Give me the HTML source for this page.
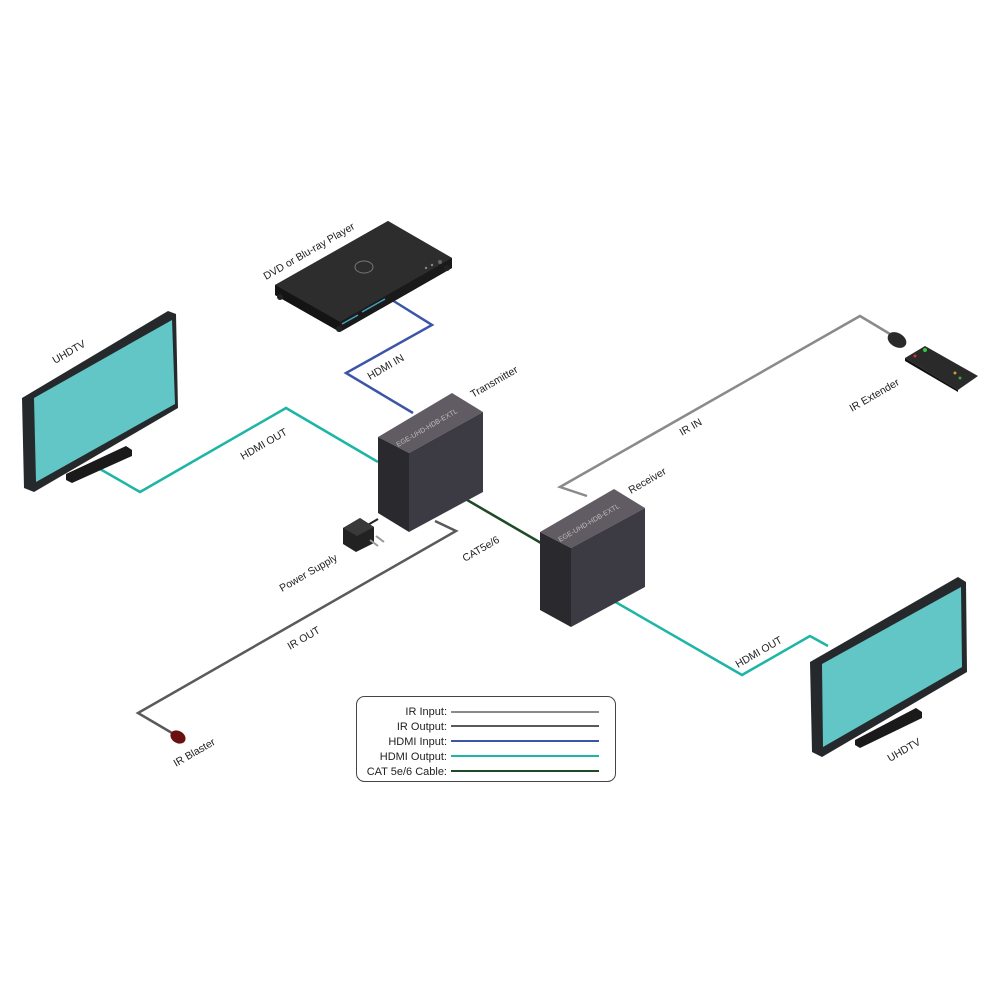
<!DOCTYPE html>
<html><head><meta charset="utf-8"><style>
html,body{margin:0;padding:0;background:#fff;}
svg{display:block;font-family:"Liberation Sans",sans-serif;}
</style></head><body>
<svg width="1000" height="1000" viewBox="0 0 1000 1000">
<polyline points="392,300 432,325 346,373 413,413" fill="none" stroke="#3c55a8" stroke-width="2.5"/>
<polyline points="378,462 286,408 140,492 100,469" fill="none" stroke="#1db5a5" stroke-width="2.5"/>
<polyline points="435,521 456,531 138,713 172,733" fill="none" stroke="#5a5a5a" stroke-width="2.5"/>
<line x1="462" y1="497" x2="541" y2="543" stroke="#1e4a26" stroke-width="2.5"/>
<polyline points="587,496 560,487 860,316 890,334" fill="none" stroke="#8a8a8a" stroke-width="2.5"/>
<polyline points="612,600 742,675 810,636 828,646" fill="none" stroke="#1db5a5" stroke-width="2.5"/>

<polygon points="275,285 388,221 452,258 452,268 340,332 275,295" fill="#1f1f1f"/>
<polygon points="275,285 388,221 452,258 340,322" fill="#2d2d2d"/>
<polygon points="275,285 340,322 340,332 275,295" fill="#141414"/>
<polygon points="340,322 452,258 452,268 340,332" fill="#1a1a1a"/>
<ellipse cx="364" cy="267" rx="9" ry="6" fill="none" stroke="#777" stroke-width="1"/>
<line x1="342" y1="324" x2="358" y2="315" stroke="#3fa3c0" stroke-width="1.5"/>
<line x1="362" y1="312" x2="385" y2="299" stroke="#3fa3c0" stroke-width="1.5"/>
<circle cx="339" cy="329" r="3" fill="#222"/><circle cx="280" cy="297" r="3" fill="#222"/><circle cx="447" cy="268" r="3" fill="#222"/>
<circle cx="440" cy="262" r="2" fill="#666"/><circle cx="432" cy="265" r="1.2" fill="#888"/><circle cx="426" cy="268" r="1.2" fill="#888"/>
<g font-size="10.5" fill="#222">
<text transform="translate(266,280) rotate(-30)">DVD or Blu-ray Player</text>
<text transform="translate(370,380) rotate(-30)">HDMI IN</text>
</g>

<polygon points="378,437 452,393 483,412 409,453" fill="#615c63"/>
<polygon points="378,437 409,453 409,532 378,513" fill="#2a292e"/>
<polygon points="409,453 483,412 483,492 409,532" fill="#3c3a42"/>
<text transform="translate(398,447) rotate(-30)" font-size="7" fill="#bbb">EGE-UHD-HDB-EXTL</text>

<polygon points="540,532 614,489 645,508 571,548" fill="#615c63"/>
<polygon points="540,532 571,548 571,627 540,610" fill="#2a292e"/>
<polygon points="571,548 645,508 645,587 571,627" fill="#3c3a42"/>
<text transform="translate(560,542) rotate(-30)" font-size="7" fill="#bbb">EGE-UHD-HDB-EXTL</text>

<line x1="378" y1="519" x2="366" y2="526" stroke="#222" stroke-width="2"/>
<polygon points="343,528 360,518 374,527 374,543 356,552 343,544" fill="#222"/>
<polygon points="343,528 360,518 374,527 357,536" fill="#3a3a3a"/>
<line x1="370" y1="540" x2="378" y2="546" stroke="#999" stroke-width="2"/>
<line x1="376" y1="536" x2="384" y2="542" stroke="#999" stroke-width="2"/>

<ellipse cx="178" cy="737" rx="8" ry="6" transform="rotate(30 178 737)" fill="#6a1010"/>

<polygon points="22,398 168,311 176,314 178,408 34,492 24,488" fill="#25292b"/>
<polygon points="34,398 172,320 175,404 36,482" fill="#63c6c6"/>
<polygon points="66,474 126,446 132,450 132,456 72,483 66,480" fill="#1a1a1a"/>

<polygon points="810,662 958,577 966,582 967,672 822,757 812,752" fill="#25292b"/>
<polygon points="822,664 961,587 962,667 823,747" fill="#63c6c6"/>
<polygon points="855,740 916,708 922,712 922,718 860,748 855,745" fill="#1a1a1a"/>

<ellipse cx="897" cy="340" rx="10" ry="7" transform="rotate(30 897 340)" fill="#2a2a2a"/>
<polygon points="905,358 925,346 978,376 958,390" fill="#2a2a2a"/>
<polygon points="905,358 958,390 958,392 905,361" fill="#111"/>
<circle cx="925" cy="350" r="2" fill="#3c3"/><circle cx="915" cy="356" r="1.5" fill="#c33"/>
<circle cx="955" cy="373" r="1.5" fill="#c93"/><circle cx="960" cy="378" r="1.5" fill="#3a3"/>

<g font-size="10.5" fill="#222">
<text transform="translate(473,398) rotate(-30)">Transmitter</text>
<text transform="translate(631,494) rotate(-30)">Receiver</text>
<text transform="translate(282,592) rotate(-30)">Power Supply</text>
<text transform="translate(465,562) rotate(-30)">CAT5e/6</text>
<text transform="translate(290,650) rotate(-30)">IR OUT</text>
<text transform="translate(176,767) rotate(-30)">IR Blaster</text>
<text transform="translate(55,364) rotate(-30)">UHDTV</text>
<text transform="translate(243,460) rotate(-30)">HDMI OUT</text>
<text transform="translate(890,762) rotate(-30)">UHDTV</text>
<text transform="translate(738,668) rotate(-30)">HDMI OUT</text>
<text transform="translate(852,412) rotate(-30)">IR Extender</text>
<text transform="translate(682,436) rotate(-30)">IR IN</text>
</g>

<rect x="356.5" y="696.5" width="259" height="85" rx="8" fill="#fff" stroke="#444" stroke-width="1"/>
<g font-size="11" fill="#222" text-anchor="end">
<text x="447" y="715">IR Input:</text>
<text x="447" y="730">IR Output:</text>
<text x="447" y="745">HDMI Input:</text>
<text x="447" y="760">HDMI Output:</text>
<text x="447" y="775">CAT 5e/6 Cable:</text>
</g>
<line x1="451" y1="712" x2="599" y2="712" stroke="#8a8a8a" stroke-width="2"/>
<line x1="451" y1="726" x2="599" y2="726" stroke="#5a5a5a" stroke-width="2"/>
<line x1="451" y1="741" x2="599" y2="741" stroke="#3c55a8" stroke-width="2"/>
<line x1="451" y1="756" x2="599" y2="756" stroke="#1db5a5" stroke-width="2"/>
<line x1="451" y1="771" x2="599" y2="771" stroke="#1e4a26" stroke-width="2"/>
</svg>
</body></html>
